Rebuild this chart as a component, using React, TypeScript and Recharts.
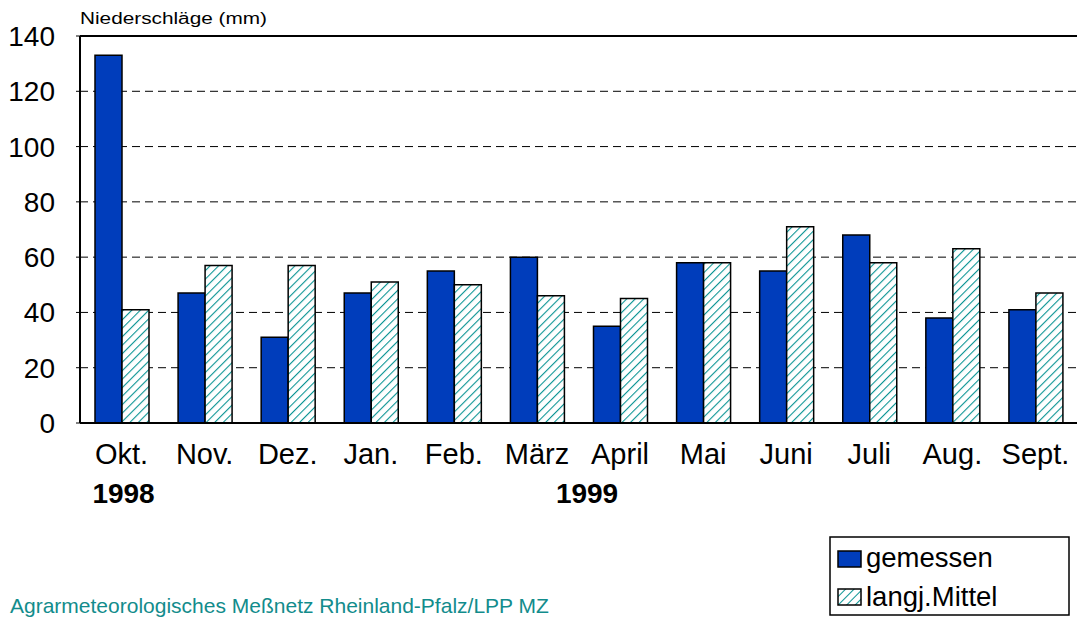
import React from 'react';
import { BarChart, Bar, XAxis, YAxis, CartesianGrid, ReferenceLine } from 'recharts';

// Monatliche Niederschläge Okt. 1998 – Sept. 1999
const months = ['Okt.', 'Nov.', 'Dez.', 'Jan.', 'Feb.', 'März', 'April', 'Mai', 'Juni', 'Juli', 'Aug.', 'Sept.'];
const gemessen = [133, 47, 31, 47, 55, 60, 35, 58, 55, 68, 38, 41];
const langjMittel = [41, 57, 57, 51, 50, 46, 45, 58, 71, 58, 63, 47];
const yearLabels = ['1998', '', '', '', '', '', '1999', '', '', '', '', ''];
const yTicks = [0, 20, 40, 60, 80, 100, 120, 140];

const BLUE = '#003DBB';
const TEAL = '#0A9494';
const FONT = '"Liberation Sans", Arial, sans-serif';

const data = months.map((m, i) => ({
  month: m,
  gemessen: gemessen[i],
  mittel: langjMittel[i],
  year: yearLabels[i],
}));

const MonthTick = ({ x, y, payload, index }: any) => {
  const year = yearLabels[index];
  // 1999 sits between März and April in the original
  const shift = index === 6 ? -33 : 2;
  return (
    <g>
      <text x={x} y={y} dy="0.71em" textAnchor="middle" fontSize={29} fill="#000">
        {payload.value}
      </text>
      {year && (
        <text x={x + shift} y={y + 40} dy="0.71em" textAnchor="middle" fontSize={28} fontWeight="bold" fill="#000">
          {year}
        </text>
      )}
    </g>
  );
};

export default function App() {
  return (
    <div style={{ position: 'absolute', left: 0, top: 0, width: 1081, height: 617, background: '#fff', fontFamily: FONT }}>
      <BarChart width={1081} height={617} data={data} barGap={0} margin={{ top: 36, right: 4, bottom: 0, left: 0 }}>
        <defs>
          <pattern id="hatch" patternUnits="userSpaceOnUse" width={6} height={6} patternTransform="rotate(45)">
            <rect width={6} height={6} fill="#fff" />
            <line x1={0} y1={0} x2={0} y2={6} stroke={TEAL} strokeWidth={2.2} />
          </pattern>
        </defs>
        <CartesianGrid horizontal vertical={false} stroke="#000" strokeDasharray="8 5" />
        <XAxis
          dataKey="month"
          height={194}
          tick={<MonthTick />}
          tickLine={false}
          tickSize={0}
          tickMargin={20}
          interval={0}
          axisLine={{ stroke: '#000', strokeWidth: 2 }}
        />
        <XAxis
          xAxisId="top"
          dataKey="month"
          orientation="top"
          height={0}
          tick={false}
          tickLine={false}
          axisLine={{ stroke: '#000', strokeWidth: 2 }}
        />
        <YAxis
          width={80}
          domain={[0, 140]}
          ticks={yTicks}
          interval={0}
          tick={{ fill: '#000', fontSize: 28 }}
          tickSize={4}
          tickMargin={21}
          tickLine={{ stroke: '#000' }}
          axisLine={{ stroke: '#000', strokeWidth: 2 }}
        />
        <YAxis
          yAxisId="r"
          orientation="right"
          width={0}
          domain={[0, 140]}
          tick={false}
          tickLine={false}
          axisLine={{ stroke: '#000', strokeWidth: 2 }}
        />
        <ReferenceLine y={140} stroke="#000" strokeWidth={2} />
        <Bar dataKey="gemessen" fill={BLUE} stroke="#000" strokeWidth={1.5} barSize={27} isAnimationActive={false} />
        <Bar dataKey="mittel" fill="url(#hatch)" stroke="#000" strokeWidth={1.5} barSize={27} isAnimationActive={false} />
      </BarChart>

      <svg width={1081} height={617} style={{ position: 'absolute', left: 0, top: 0, pointerEvents: 'none' }}>
        <defs>
          <pattern id="hatchLegend" patternUnits="userSpaceOnUse" width={6} height={6} patternTransform="rotate(45)">
            <rect width={6} height={6} fill="#fff" />
            <line x1={0} y1={0} x2={0} y2={6} stroke={TEAL} strokeWidth={2} />
          </pattern>
        </defs>
        <text x={80} y={24} fontSize={16} fill="#000" textLength={187} lengthAdjust="spacingAndGlyphs">
          Niederschläge (mm)
        </text>
        <text x={10} y={613} fontSize={21} fill="#128C8C">
          Agrarmeteorologisches Meßnetz Rheinland-Pfalz/LPP MZ
        </text>
        <rect x={830} y={537} width={239} height={78} fill="#fff" stroke="#000" strokeWidth={1.5} />
        <rect x={838} y={551} width={23} height={16} fill={BLUE} stroke="#000" strokeWidth={1.5} />
        <text x={866} y={567} fontSize={27.5} fill="#000">gemessen</text>
        <rect x={838} y={589} width={23} height={16} fill="url(#hatchLegend)" stroke="#000" strokeWidth={1.5} />
        <text x={866} y={606} fontSize={27.5} fill="#000">langj.Mittel</text>
      </svg>
    </div>
  );
}
